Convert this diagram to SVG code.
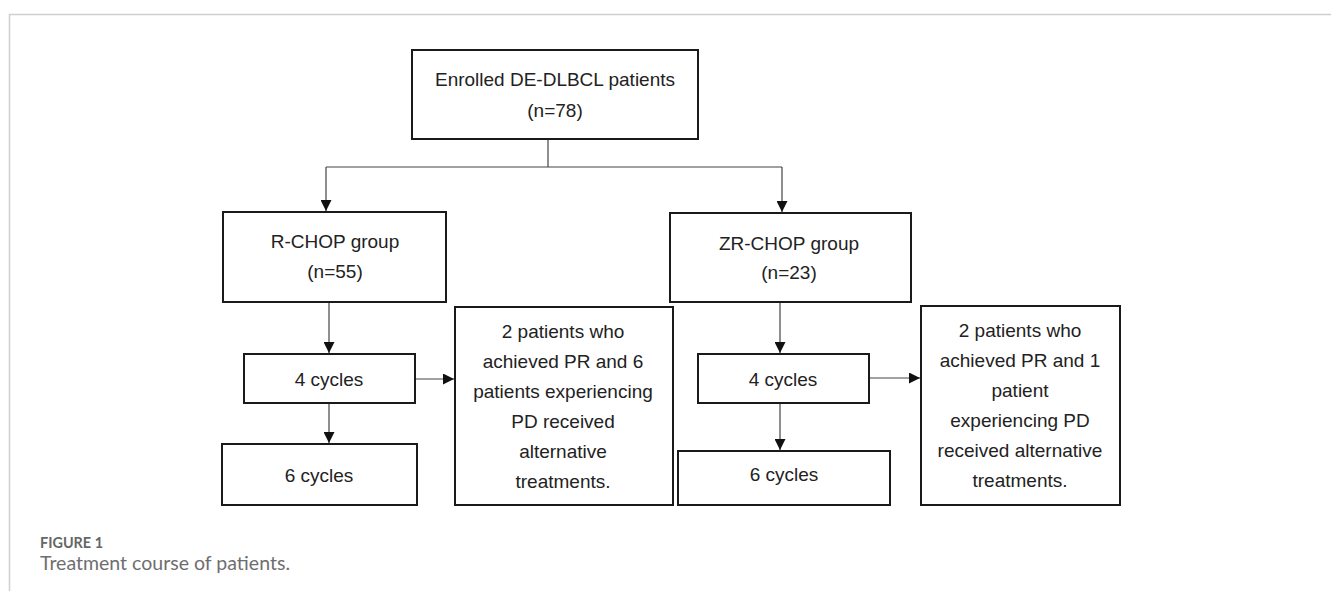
<svg xmlns="http://www.w3.org/2000/svg" width="1331" height="591" viewBox="0 0 1331 591">
<defs>
<style>
.box{fill:#fff;stroke:#1a1a1a;stroke-width:2}
.t{font-family:"Liberation Sans",Arial,sans-serif;font-size:19px;fill:#222;text-anchor:middle}
.c{fill:none;stroke:#444;stroke-width:1.2}
.frame{stroke:#cfcfcf;stroke-width:1.5;fill:none}
.cap1{font-family:Lato,"Liberation Sans",sans-serif;font-size:15px;font-weight:bold;fill:#666}
.cap2{font-family:Lato,"Liberation Sans",sans-serif;font-size:19px;fill:#6e6e6e}
</style>
<marker id="ah" markerUnits="userSpaceOnUse" markerWidth="12" markerHeight="11" refX="11" refY="5.5" orient="auto">
<path d="M0,0 L11,5.5 L0,11 z" fill="#111"/>
</marker>
</defs>
<rect width="1331" height="591" fill="#fff"/>
<path class="frame" d="M9.5,591 V14.5 H1331"/>

<g id="connectors">
<path class="c" d="M548,139 V167"/>
<path class="c" d="M326,167 H782"/>
<path class="c" d="M326,167 V211" marker-end="url(#ah)"/>
<path class="c" d="M782,167 V212" marker-end="url(#ah)"/>
<path class="c" d="M329,302 V353" marker-end="url(#ah)"/>
<path class="c" d="M329,403 V443" marker-end="url(#ah)"/>
<path class="c" d="M415,379 H454" marker-end="url(#ah)"/>
<path class="c" d="M780,302 V353" marker-end="url(#ah)"/>
<path class="c" d="M780,403 V450" marker-end="url(#ah)"/>
<path class="c" d="M869,378 H920" marker-end="url(#ah)"/>
</g>

<g id="enrolled">
<rect class="box" x="412" y="50" width="286" height="89"/>
<text class="t" x="555" y="86">Enrolled DE-DLBCL patients</text>
<text class="t" x="555" y="117">(n=78)</text>
</g>

<g id="rchop">
<rect class="box" x="223" y="212" width="223" height="90"/>
<text class="t" x="335" y="248">R-CHOP group</text>
<text class="t" x="335" y="278">(n=55)</text>
</g>

<g id="zrchop">
<rect class="box" x="670" y="213" width="241" height="89"/>
<text class="t" x="789" y="250">ZR-CHOP group</text>
<text class="t" x="789" y="279">(n=23)</text>
</g>

<g id="r4cycles">
<rect class="box" x="244" y="354" width="171" height="49"/>
<text class="t" x="329" y="386">4 cycles</text>
</g>

<g id="r6cycles">
<rect class="box" x="222" y="444" width="195" height="61"/>
<text class="t" x="319" y="482">6 cycles</text>
</g>

<g id="ralt">
<rect class="box" x="455" y="307" width="218" height="198"/>
<text class="t" x="563" y="338">2 patients who</text>
<text class="t" x="563" y="368">achieved PR and 6</text>
<text class="t" x="563" y="398">patients experiencing</text>
<text class="t" x="563" y="428">PD received</text>
<text class="t" x="563" y="458">alternative</text>
<text class="t" x="563" y="488">treatments.</text>
</g>

<g id="z4cycles">
<rect class="box" x="698" y="354" width="171" height="49"/>
<text class="t" x="783" y="386">4 cycles</text>
</g>

<g id="z6cycles">
<rect class="box" x="678" y="451" width="212" height="54"/>
<text class="t" x="784" y="481">6 cycles</text>
</g>

<g id="zalt">
<rect class="box" x="921" y="306" width="199" height="199"/>
<text class="t" x="1020" y="337">2 patients who</text>
<text class="t" x="1020" y="367">achieved PR and 1</text>
<text class="t" x="1020" y="397">patient</text>
<text class="t" x="1020" y="427">experiencing PD</text>
<text class="t" x="1020" y="457">received alternative</text>
<text class="t" x="1020" y="487">treatments.</text>
</g>

<text class="cap1" x="40" y="548" textLength="63" lengthAdjust="spacingAndGlyphs">FIGURE 1</text>
<text class="cap2" x="40" y="570" textLength="250" lengthAdjust="spacingAndGlyphs">Treatment course of patients.</text>
</svg>
